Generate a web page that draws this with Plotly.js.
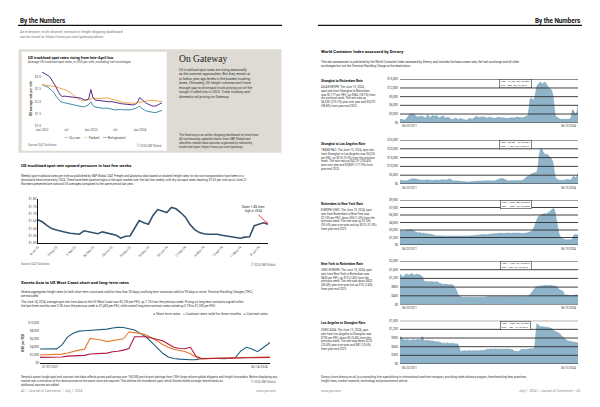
<!DOCTYPE html>
<html><head><meta charset="utf-8">
<script src="https://cdn.plot.ly/plotly-3.0.1.min.js"></script>
<style>html,body{margin:0;padding:0;background:#fff}#chart{width:600px;height:407px}</style>
</head><body><div id="chart"></div>
<script>
// ---------------- DATA ----------------
// Chart 1: US truckload spot rates (USD per mile, semi-monthly, Jan 2022 - Jun 2024)
const truckSeries = ['Dry van', 'Flatbed', 'Refrigerated'];
const dryVan = [2.69,2.66,2.62,2.58,2.52,2.45,2.36,2.22,2.10,2.02,1.97,1.95,1.94,1.92,1.90,1.88,1.86,1.84,1.82,1.80,1.78,1.79,1.82,1.86,1.99,1.84,1.78,1.76,1.74,1.72,1.72,1.73,1.74,1.72,1.69,1.66,1.65,1.67,1.68,1.67,1.66,1.65,1.65,1.66,1.67,1.68,1.72,1.76,1.81,1.72,1.66,1.62,1.60,1.58,1.56,1.55,1.55,1.57,1.60,1.64];
const flatbed = [2.69,2.68,2.67,2.66,2.65,2.64,2.62,2.60,2.57,2.55,2.53,2.50,2.46,2.41,2.37,2.30,2.22,2.15,2.10,2.07,2.05,2.04,2.05,2.06,2.10,2.14,2.15,2.13,2.12,2.13,2.15,2.16,2.15,2.13,2.10,2.08,2.05,2.02,1.99,1.97,1.96,1.95,1.94,1.93,1.92,1.92,1.93,1.95,1.96,1.97,1.99,2.01,2.03,2.05,2.05,2.04,2.03,2.02,2.01,2.00];
const reefer = [3.20,3.16,3.12,3.06,3.00,2.88,2.76,2.60,2.42,2.28,2.20,2.22,2.21,2.20,2.19,2.20,2.18,2.17,2.16,2.14,2.10,2.06,2.07,2.10,2.49,2.18,2.06,2.05,2.04,2.03,2.02,2.00,1.99,1.99,2.00,1.98,1.96,1.94,1.93,1.91,1.90,1.89,1.88,1.87,1.86,1.86,1.90,1.97,2.16,2.08,2.02,1.94,1.90,1.85,1.82,1.81,1.82,1.86,1.90,1.95];
const truckTickVals = ['2022-01-01','2022-07-01','2023-01-01','2023-07-01','2024-01-01'];
const truckTickText = ['Jan 2022','Jul','Jan 2023','Jul','Jan 2024'];
const truckYTicks = [1.0,1.5,2.0,2.5,3.0];

// Chart 2: weekly dry van spot rate (USD per mile), from 8 Jul 2023
const weeklyRate = [1.66,1.645,1.62,1.60,1.59,1.585,1.575,1.568,1.566,1.562,1.585,1.578,1.575,1.565,1.578,1.57,1.562,1.555,1.535,1.548,1.55,1.60,1.655,1.64,1.63,1.69,1.73,1.72,1.71,1.745,1.735,1.71,1.68,1.63,1.595,1.575,1.565,1.562,1.562,1.562,1.555,1.548,1.545,1.54,1.535,1.542,1.545,1.62,1.63,1.64,1.63];
const weeklyYTicks = [1.50,1.55,1.60,1.65,1.70,1.75,1.80];

// Chart 3: Xeneta Asia - US West Coast (USD per FEU, monthly)
const xenetaSeries = ['Short term rates', 'Contract rates valid for three months', 'Contract rates'];
const shortTerm = [3470,3450,3460,3500,4500,6500,7400,7900,8000,8100,8200,8250,8400,8700,8850,8800,8500,8200,7350,6500,5200,3800,2400,1500,1100,950,850,800,830,1100,1100,1150,1100,1050,1100,1300,3000,3900,3500,2800,3800,5100];
const contract3m = [1980,1990,2000,2020,2200,2500,2900,3200,3400,6100,5900,5700,5300,5500,5800,6000,7700,7600,7350,7000,6300,5500,4600,3900,3400,3200,2850,2300,1500,950,1100,1150,1200,1250,1300,1300,1350,1400,1400,1400,1450,1450];
const contractLT = [1400,1400,1400,1420,1500,1700,1750,1760,1900,2230,2350,2400,2450,2800,2900,3200,3600,6500,6500,6500,6200,5900,5500,4700,3900,3600,3550,3900,1700,1100,1100,1150,1150,1200,1200,1200,1250,1300,1300,1300,1300,1350];
const xenetaYTicks = [0,2000,4000,6000,8000,10000];
const xenetaTickText = ['01/07/2021','06/14/2024'];

// Drewry WCI (USD per FEU, monthly, Jun 2011 - Jun 2024)
const shanghaiRotterdam = [
 1300,1200,1100,950,900,1000,1500,
 1800,2600,3000,2800,2900,3100,2700,2300,2000,2100,1900,2200,
 2300,2100,1800,1700,1500,2600,2400,2000,1600,2300,2500,2200,
 2100,2600,2000,1800,1700,2000,2200,2400,1900,1700,1500,2000,
 1800,1500,1100,1000,1400,1200,1700,1400,1000,1200,1600,1300,
 1200,900,800,900,950,1100,1600,1300,1200,1300,1700,2000,
 2200,2000,1700,1900,2000,1800,2100,1900,1800,1700,1500,1900,
 1900,1800,1600,1500,1600,1500,1700,1900,1800,1700,1500,1600,
 1700,1600,1500,1400,1600,1500,1700,1600,1500,1600,1700,1900,
 2000,1800,1700,1600,1700,1800,1900,2100,2300,2400,4800,8000,
 8500,8200,7800,8500,11000,12500,13200,13800,14100,13700,13200,13900,
 14000,13500,12800,12200,12000,11500,11000,9500,5000,2500,2000,1700,
 1500,1300,1200,1200,1300,1150,1200,1300,1100,1050,1150,2000,
 4500,4200,3200,2800,3700,6200];
const shanghaiLosAngeles = [
 2200,2100,2000,1900,1800,1700,1900,
 2000,2200,2500,2700,3000,3100,2900,2800,2600,2400,2300,2200,
 2300,2200,2100,2000,2400,2300,2200,2000,1900,2000,1800,1900,
 2300,2400,2100,2000,2200,2300,2400,2300,2200,2200,2300,2500,
 2600,2800,2300,2000,1800,1600,1800,1700,1500,1400,1300,1400,
 1500,1400,1200,1100,1100,1200,1300,1400,1300,1400,1700,1800,
 1900,1800,1700,1600,1700,1800,1700,1600,1700,1800,1900,1800,
 1800,1700,1600,1500,1700,2000,2300,2500,2800,3000,3200,3100,
 2800,2300,2000,1700,1700,1800,1800,1700,1800,1700,1600,1700,
 1800,1800,1700,1800,2000,2400,2500,3500,4000,4500,5000,5500,
 6000,6000,6200,6300,6500,7000,10000,16000,19800,20200,18500,17500,
 17000,16500,17000,16000,15500,15000,14000,12500,8000,4000,2800,2400,
 2100,2000,2000,2000,2200,2000,2300,2500,2700,2300,2100,2300,
 3500,4500,4000,3600,4400,6000];
const rotterdamNewYork = [
 2800,2900,2800,2700,2800,2900,3000,
 3000,2900,3100,3000,2900,2800,2700,2600,2500,2400,2500,2400,
 2400,2300,2400,2300,2200,2300,2200,2100,2200,2100,2000,1900,
 1900,1800,1850,1800,1750,1800,1850,1800,1750,1700,1750,1800,
 1800,1750,1700,1700,1650,1700,1750,1700,1700,1650,1700,1700,
 1700,1650,1700,1750,1700,1750,1800,1850,1800,1850,1900,1900,
 1950,2000,2000,2050,2000,2050,2100,2050,2000,2050,2100,2100,
 2150,2200,2150,2200,2250,2300,2250,2300,2350,2300,2300,2350,
 2300,2350,2300,2350,2400,2350,2300,2350,2400,2350,2400,2350,
 2400,2350,2300,2350,2300,2350,2300,2350,2400,2450,2500,2600,
 2700,2900,3200,3800,4500,5200,5600,5800,6000,6100,6200,6200,
 6300,6200,6400,6500,6600,6800,7000,7300,7200,6500,5000,3500,
 2500,1800,1500,1300,1200,1100,1000,1000,1050,1000,1100,1050,
 1150,1900,2000,2100,2000,2100];
const newYorkRotterdam = [
 1400,1350,1300,1280,
 1350,1380,1400,1360,1340,1380,1420,1400,1360,1340,1380,1400,1360,1380,1340,1300,1280,
 1100,1050,1080,1040,1060,1050,1030,1070,1050,1020,1040,1060,1050,1000,980,
 940,930,920,940,930,910,900,
 890,900,920,900,880,
 760,720,600,
 440,400,
 340,330,320,330,340,330,320,330,330,340,330,320,330,340,330,320,330,340,330,320,330,340,350,
 360,350,360,370,360,355,360,370,365,350,360,375,360,350,365,370,360,355,360,370,360,350,365,370,360,350,360,375,360,350,360,370,365,350,360,370,380,400,
 450,520,600,
 700,780,800,820,830,840,
 850,860,840,850,870,880,860,850,870,880,860,850,840,850,830,800,
 700,680,660,650,600,
 450,440,430,420,430,420,410,420,430,420,430,440,430];
const losAngelesShanghai = [
 900,950,880,
 830,820,840,830,850,820,830,810,840,850,830,820,840,860,830,820,900,950,
 820,810,800,820,810,800,810,790,800,
 780,770,760,780,770,760,
 740,720,710,730,700,720,740,710,700,720,730,700,710,690,700,680,
 580,450,430,
 460,450,470,460,440,460,470,450,460,470,460,450,470,460,450,470,480,470,460,480,490,
 500,510,500,520,510,500,510,520,510,500,510,520,510,500,520,510,500,510,520,510,500,510,500,490,
 440,430,420,430,440,450,
 500,510,520,510,500,510,520,510,520,530,520,540,560,
 1000,1400,
 1350,1300,1290,1300,1280,1290,1270,1280,1260,1270,1250,1240,1230,1200,
 1150,1130,1120,1100,1080,1050,1000,960,920,880,850,
 820,800,790,780,770,760,750,740,740,730,730];
const ticksSR  = [0,3000,6000,9000,12000,15000];
const ticksSLA = [0,5000,10000,15000,20000,25000];
const ticksRNY = [0,1500,3000,4500,6000,7500,9000];
const ticksNYR = [0,400,800,1200,1600,2000];
const ticksLAS = [0,300,600,900,1200,1500];

// ---------------- DATES ----------------
function pad(n){return String(n).padStart(2,'0');}
const truckDates = [];
for (let i=0;i<dryVan.length;i++){ const mo=Math.floor(i/2); const y=2022+Math.floor(mo/12); const m=mo%12+1; truckDates.push(`${y}-${pad(m)}-${i%2?'15':'01'}`); }
const weeklyDates = [];
for (let i=0;i<weeklyRate.length;i++){ const d=new Date(Date.UTC(2023,6,8)+i*7*86400000); weeklyDates.push(d.toISOString().slice(0,10)); }
const xenetaDates = [];
for (let i=0;i<shortTerm.length-1;i++){ const y=2021+Math.floor(i/12), m=i%12+1; xenetaDates.push(`${y}-${pad(m)}-07`); }
xenetaDates.push('2024-06-14');
const drewryDates = ['2011-06-23'];
{ let y=2011,m=7; while(!(y===2024&&m===6)){ drewryDates.push(`${y}-${pad(m)}-15`); m++; if(m>12){m=1;y++;} } }
drewryDates.push('2024-06-13');

// ---------------- HELPERS ----------------
const W=600,H=407;
const px=x=>x/W, py=y=>1-y/H;
const F='Roboto, "Liberation Sans", Arial, sans-serif';
const SERIF='"Liberation Serif", "DejaVu Serif", serif';
const annotations=[], shapes=[];
function txt(x,y,text,size,o={}){
  annotations.push(Object.assign({xref:'paper',yref:'paper',x:px(x),y:py(y),text,showarrow:false,
    xanchor:o.xa||'left',yanchor:o.ya||'middle',align:o.align||o.xa||'left',
    font:{family:o.family||F,size,color:o.color||'#333'}},o.extra||{}));
}
function usDate(s){return s.slice(5,7)+'/'+s.slice(8,10)+'/'+s.slice(0,4);}
function fmt(v){return v.toLocaleString('en-US');}

// ---------------- LEFT PAGE ----------------
txt(18,21,'<b>By the Numbers</b>',6.3,{color:'#111'});
shapes.push({type:'line',xref:'paper',yref:'paper',x0:px(18),x1:px(282),y0:py(25.3),y1:py(25.3),line:{color:'#111',width:1.3}});
txt(18,28.3,'An extensive, multi-channel, interactive freight shipping dashboard<br>can be found at: https://www.joc.com/gateway/about',3.5,{ya:'top',color:'#777'});

shapes.push({type:'rect',xref:'paper',yref:'paper',x0:px(18.5),x1:px(281.5),y0:py(49.3),y1:py(152.7),fillcolor:'#dddbd3',line:{width:0},layer:'below'});
shapes.push({type:'rect',xref:'paper',yref:'paper',x0:px(21.7),x1:px(166.7),y0:py(51.7),y1:py(150.7),fillcolor:'#ffffff',line:{width:0},layer:'below'});

txt(26,57.7,'<b>US truckload spot rates rising from late-April low</b>',3.9,{color:'#111'});
txt(26,62.2,'Average US truckload spot rates, in USD per mile, excluding fuel surcharges',3.1,{color:'#444'});
const truckColors=['#3d8fa6','#eeab4a','#5b2b86'];
txt(94,137,truckSeries.map((n,i)=>`<span style="color:${truckColors[i]};font-size:6px">—</span> ${n}`).join('&nbsp;&nbsp;&nbsp;&nbsp;'),3.2,{xa:'center',color:'#444'});
txt(26,145,'Source: DAT Solutions',2.9,{color:'#666'});
txt(164,145,'© 2024 S&amp;P Global',2.9,{xa:'right',color:'#666'});

txt(177,58.5,'On Gateway',9.6,{family:SERIF,color:'#222'});
txt(177,66,'US truckload spot rates are rising seasonally<br>as the summer approaches. But they remain at<br>or below year-ago levels in the busiest trucking<br>lanes. Ultimately, US freight volumes don\'t have<br>enough gas to drive spot truck pricing out of the<br>trough it rolled into in 2023. Track trucking and<br>domestic rail pricing on Gateway.',3.45,{ya:'top',color:'#333'});
txt(177,131,'The Gateway is an online shipping dashboard of more than<br>40 continuously updated charts from S&amp;P Global and<br>identifies market data sources organized by industries,<br>mode and topic: https://www.joc.com/gateway',3.05,{ya:'top',color:'#333'});

txt(19,166,'<b>US truckload spot rate upward pressure in last few weeks</b>',4.3,{color:'#111'});
txt(19,172.3,'Weekly spot truckload rates per mile as published by S&amp;P Global. DAT Freight and Analytics data based on booked freight rates for dry van transportation have been in a<br>downward trend since early 2024. There have been positive signs in the spot market over the last few weeks, with dry van spot rates reaching $1.63 per mile as of June 22.<br>Numbers presented are national US averages compared to the same period last year.',3.0,{ya:'top',color:'#333'});
annotations.push({xref:'x2',yref:'y2',x:weeklyDates[weeklyDates.length-1],y:weeklyRate[weeklyRate.length-1],ax:-15,ay:-15,
  text:'Down 1.4% from<br>high in 2024',showarrow:true,arrowcolor:'#e0302f',arrowhead:2,arrowsize:0.6,arrowwidth:0.9,standoff:0,
  font:{family:F,size:3.1,color:'#222'}});
txt(19,264,'Source: DAT Solutions',2.9,{color:'#666'});
txt(278,264,'© 2024 S&amp;P Global',2.9,{xa:'right',color:'#666'});

txt(19,282.3,'<b>Xeneta Asia to US West Coast short and long-term rates</b>',4.3,{color:'#111'});
txt(19,288,'Xeneta aggregates freight rates for both short-term (contracts valid for less than 30 days) and long-term contracts valid for 90 days or more. Terminal Handling Charges (THC)<br>are excluded.',3.0,{ya:'top',color:'#333'});
txt(19,296.5,'The June 14, 2024, average spot rate from Asia to the US West Coast was $5,100 per FEU, up 7.1% from the previous week. Pricing on long-term contracts signed within<br>the last three months rose 0.3% from the previous week to $1,450 per FEU, while overall long-term contract rates inched up 0.7% to $1,350 per FEU.',3.0,{ya:'top',color:'#333'});
const xenColors=['#1f5f7a','#e8792b','#b5173f'];
txt(270,314.3,xenetaSeries.map((n,i)=>`<span style="color:${xenColors[i]}">●</span> ${n}`).join('&nbsp;&nbsp;&nbsp;'),3.4,{xa:'right',color:'#333'});
txt(19,372.6,'Xeneta\'s ocean freight spot and contract rate data reflects prices paid across over 160,000 port-to-port pairings from 750+ large-volume global shippers and freight forwarders. Before displaying any<br>market rate, a minimum of five data sources on the same route are required. This defines the foundation upon which Xeneta builds stronger benchmarks as<br>additional sources are added.',2.95,{ya:'top',color:'#333'});
txt(278,381.3,'© 2024 S&amp;P Global',2.9,{xa:'right',color:'#666'});
txt(19,390.7,'42 &nbsp;|&nbsp; Journal of Commerce &nbsp;|&nbsp; July 1, 2024',3.3,{color:'#888'});
txt(278,390.7,'www.joc.com',3.3,{xa:'right',color:'#888'});
annotations.push({xref:'x3',yref:'paper',x:xenetaDates[0],y:py(366.8),text:xenetaTickText[0],showarrow:false,xanchor:'left',yanchor:'middle',font:{family:F,size:3.1,color:'#444'}});
annotations.push({xref:'x3',yref:'paper',x:xenetaDates[xenetaDates.length-1],y:py(366.8),text:xenetaTickText[1],showarrow:false,xanchor:'right',yanchor:'middle',font:{family:F,size:3.1,color:'#444'}});

// ---------------- RIGHT PAGE ----------------
txt(582,21,'<b>By the Numbers</b>',6.3,{xa:'right',color:'#111'});
shapes.push({type:'line',xref:'paper',yref:'paper',x0:px(318),x1:px(582),y0:py(25.3),y1:py(25.3),line:{color:'#111',width:1.3}});
txt(319,51.7,'<b>World Container Index assessed by Drewry</b>',4.3,{color:'#111'});
txt(319,58,'The rate assessment is published by the World Container Index assessed by Drewry and includes the base ocean rate, the fuel surcharge and all other<br>surcharges but not the Terminal Handling Charge at the destination.',3.0,{ya:'top',color:'#333'});
txt(319,372.6,'Drewry (www.drewry.co.uk) is a consulting firm specializing in international maritime transport, providing trade advisory support, benchmarking best practices,<br>freight rates, market research, technology and procurement advice.',2.95,{ya:'top',color:'#333'});
txt(319,390.7,'www.joc.com',3.3,{color:'#888'});
txt(582,390.7,'July 1, 2024 &nbsp;|&nbsp; Journal of Commerce &nbsp;|&nbsp; 43',3.3,{xa:'right',color:'#888'});

const panels=[
 {title:'Shanghai to Rotterdam Rate',vals:shanghaiRotterdam,ticks:ticksSR,top:79.3,bot:122.7,ty:81,
  body:['ASIA-EUROPE: The June 13, 2024,','spot rate from Shanghai to Rotterdam','was $6,177 per FEU, up $946 (18.1%) from','the previous week. The rate was up','$4,530 (275.1%) year over year and $3,070','(98.8%) from year-end 2023.']},
 {title:'Shanghai to Los Angeles Rate',vals:shanghaiLosAngeles,ticks:ticksSLA,top:140,bot:184,ty:144,
  body:['TRANS-PAC: The June 13, 2024, spot rate','from Shanghai to Los Angeles was $6,025','per FEU, up $510 (9.2%) from the previous','week. The rate was up $4,229 (235.4%)','year over year and $3,809 (171.9%) from','year-end 2023.']},
 {title:'Rotterdam to New York Rate',vals:rotterdamNewYork,ticks:ticksRNY,top:200,bot:245,ty:204,
  body:['EUROPE-USEC: The June 13, 2024, spot','rate from Rotterdam to New York was','$2,155 per FEU, down $35 (1.6%) from the','previous week. The rate was up $1,036','(92.6%) year over year and up $510 (31.0%)','from year-end 2023.']},
 {title:'New York to Rotterdam Rate',vals:newYorkRotterdam,ticks:ticksNYR,top:261,bot:304.5,ty:263.5,
  body:['USEC-EUROPE: The June 13, 2024, spot','rate from New York to Rotterdam was','$430 per FEU, up $10 (2.4%) from the','previous week. The rate was down $420','(49.4%) year over year but up $10 (2.4%)','from year-end 2023.']},
 {title:'Los Angeles to Shanghai Rate',vals:losAngelesShanghai,ticks:ticksLAS,top:320.7,bot:364,ty:323.3,
  body:['USWC-ASIA: The June 13, 2024, spot','rate from Los Angeles to Shanghai was','$730 per FEU, down $3 (0.4%) from the','previous week. The rate was down $223','(23.4%) year over year and $87 (10.6%)','from year-end 2023.']}
];

const traces=[];
[dryVan,flatbed,reefer].forEach((v,i)=>traces.push({type:'scatter',mode:'lines',x:truckDates,y:v,name:truckSeries[i],xaxis:'x',yaxis:'y',line:{color:truckColors[i],width:1},showlegend:false}));
traces.push({type:'scatter',mode:'lines',x:weeklyDates,y:weeklyRate,name:'Dry van spot rate',xaxis:'x2',yaxis:'y2',line:{color:'#34526d',width:1.6},showlegend:false});
[shortTerm,contract3m,contractLT].forEach((v,i)=>traces.push({type:'scatter',mode:'lines',x:xenetaDates,y:v,name:xenetaSeries[i],xaxis:'x3',yaxis:'y3',line:{color:xenColors[i],width:1.1},showlegend:false}));

const layout={width:W,height:H,margin:{l:0,r:0,t:0,b:0},paper_bgcolor:'#fff',plot_bgcolor:'rgba(0,0,0,0)',showlegend:false,
 font:{family:F,size:4,color:'#333'},
 xaxis:{domain:[px(42),px(162)],type:'date',range:[truckDates[0],truckDates[truckDates.length-1]],tickvals:truckTickVals,ticktext:truckTickText,
   tickfont:{size:3.2,color:'#555'},showgrid:false,zeroline:false,ticks:'',anchor:'y',fixedrange:true},
 yaxis:{domain:[py(127),py(70)],range:[0.959,3.286],tickvals:truckYTicks,tickformat:'$.1f',tickfont:{size:3.2,color:'#555'},showgrid:false,zeroline:false,ticks:'',anchor:'x',
   title:{text:'<b>US average rate per mile</b>',font:{size:3.2,color:'#333'},standoff:2}},
 xaxis2:{domain:[px(38),px(268)],type:'date',range:[weeklyDates[0],weeklyDates[weeklyDates.length-1]],tickvals:weeklyDates.filter((d,i)=>i%4===0),tickformat:'%-d-%b-%y',
   tickangle:-45,tickfont:{size:3.1,color:'#444'},showgrid:false,zeroline:false,showline:true,linecolor:'#111',linewidth:1,ticks:'',anchor:'y2'},
 yaxis2:{domain:[py(243.3),py(199.3)],range:[1.50,1.80],tickvals:weeklyYTicks,tickformat:'$.2f',tickfont:{size:3.1,color:'#444'},showgrid:false,zeroline:false,showline:true,linecolor:'#111',linewidth:1,ticks:'',anchor:'x2'},
 xaxis3:{domain:[px(40),px(270)],type:'date',range:[xenetaDates[0],xenetaDates[xenetaDates.length-1]],showticklabels:false,showgrid:false,zeroline:false,showline:true,linecolor:'#111',linewidth:1,ticks:'',anchor:'y3'},
 yaxis3:{domain:[py(363),py(322.7)],range:[0,10000],tickvals:xenetaYTicks,tickformat:'$,.0f',tickfont:{size:3.1,color:'#444'},showgrid:false,zeroline:false,ticks:'',anchor:'x3',
   title:{text:'<b>USD per FEU</b>',font:{size:3.2,color:'#333'},standoff:3}},
 annotations, shapes
};

panels.forEach((p,k)=>{
  const n=k+4, xa='x'+n, ya='y'+n;
  const ymax=p.ticks[p.ticks.length-1];
  layout['xaxis'+n]={domain:[px(400),px(578)],type:'date',range:[drewryDates[0],drewryDates[drewryDates.length-1]],showticklabels:false,showgrid:false,zeroline:false,ticks:'',anchor:ya};
  layout['yaxis'+n]={domain:[py(p.bot),py(p.top)],range:[0,ymax],tickvals:p.ticks,tickformat:'$,.0f',tickfont:{size:3.0,color:'#333'},showgrid:false,zeroline:false,ticks:'',anchor:xa,ticklabelstandoff:1};
  traces.push({type:'scatter',mode:'lines',x:drewryDates,y:p.vals,name:p.title,xaxis:xa,yaxis:ya,fill:'tozeroy',
    fillcolor:'#8fb3c9',line:{color:'#6f9ab6',width:0.5},showlegend:false});
  p.ticks.forEach(v=>shapes.push({type:'line',xref:'paper',x0:px(400),x1:px(578),yref:ya,y0:v,y1:v,line:{color:'#2b2b2b',width:0.9},layer:'above'}));
  txt(319,p.ty,'<b>'+p.title+'</b>',3.3,{color:'#111'});
  txt(319,p.ty+2.2,p.body.join('<br>'),2.9,{ya:'top',color:'#333'});
  annotations.push({xref:xa,yref:'paper',x:drewryDates[0],y:py(p.bot+3.6),text:usDate(drewryDates[0]),showarrow:false,xanchor:'left',yanchor:'middle',font:{family:F,size:2.8,color:'#333'}});
  annotations.push({xref:xa,yref:'paper',x:drewryDates[drewryDates.length-1],y:py(p.bot+3.6),text:usDate(drewryDates[drewryDates.length-1]),showarrow:false,xanchor:'right',yanchor:'middle',font:{family:F,size:2.8,color:'#333'}});
  let hi=0,lo=0; p.vals.forEach((v,i)=>{if(v>p.vals[hi])hi=i; if(v<p.vals[lo])lo=i;});
  annotations.push({xref:'paper',yref:'paper',x:px(515.5),y:py(p.top+4.3),text:`High&nbsp;&nbsp;&nbsp;${fmt(p.vals[hi])}&nbsp;&nbsp;&nbsp;${usDate(drewryDates[hi])}<br>Low&nbsp;&nbsp;&nbsp;&nbsp;${fmt(p.vals[lo])}&nbsp;&nbsp;&nbsp;${usDate(drewryDates[lo])}`,
    showarrow:false,xanchor:'center',yanchor:'middle',align:'left',bgcolor:'#fff',bordercolor:'#333',borderwidth:0.6,borderpad:0.8,font:{family:F,size:2.5,color:'#222'}});
});

Plotly.newPlot('chart',traces,layout,{staticPlot:true,displayModeBar:false});
</script></body></html>
